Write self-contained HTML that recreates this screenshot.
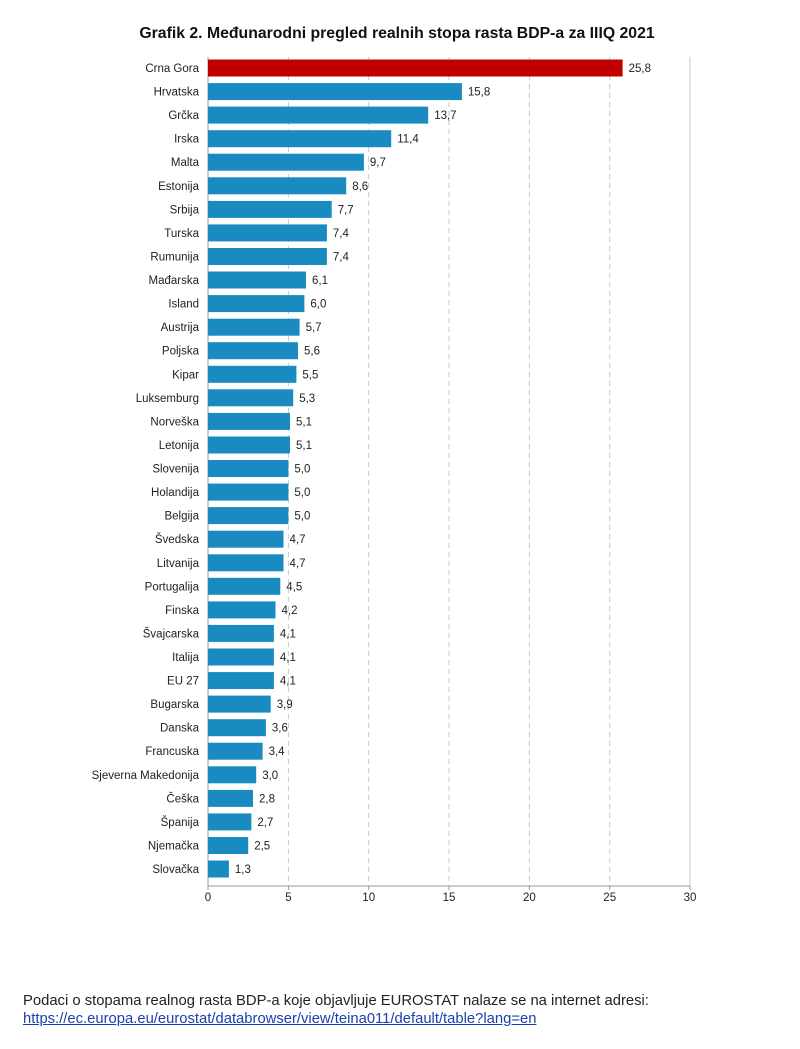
<!DOCTYPE html>
<html><head><meta charset="utf-8"><style>
body{margin:0;background:#fff;width:800px;height:1049px;overflow:hidden;font-family:"Liberation Sans",Arial,sans-serif}
svg text{font-family:"Liberation Sans",Arial,sans-serif}
.n{font-size:11.5px;fill:#222;text-anchor:end}
.v{font-size:11.5px;fill:#222}
.t{font-size:11.5px;fill:#222;text-anchor:middle}
.foot{position:absolute;left:23px;top:992px;font-size:14.8px;color:#222;line-height:18px}
.foot a{color:#1a3fb0;text-decoration:underline}
</style></head><body>
<svg width="800" height="1049" style="position:absolute;left:0;top:0">
<text x="397" y="38" text-anchor="middle" font-size="15.8" font-weight="bold" fill="#111">Grafik 2. Međunarodni pregled realnih stopa rasta BDP-a za IIIQ 2021</text>
<g stroke="#c8c8c8" stroke-dasharray="5,4" stroke-width="1">
<line x1="288.4" y1="57" x2="288.4" y2="886"/><line x1="368.7" y1="57" x2="368.7" y2="886"/><line x1="449" y1="57" x2="449" y2="886"/><line x1="529.4" y1="57" x2="529.4" y2="886"/><line x1="609.7" y1="57" x2="609.7" y2="886"/>
</g>
<line x1="690" y1="57" x2="690" y2="886" stroke="#c8c8c8"/>
<line x1="208" y1="57" x2="208" y2="886" stroke="#999"/>
<line x1="208" y1="886" x2="690" y2="886" stroke="#999"/>
<g stroke="#999"><line x1="288.4" y1="886" x2="288.4" y2="890"/><line x1="368.7" y1="886" x2="368.7" y2="890"/><line x1="449" y1="886" x2="449" y2="890"/><line x1="529.4" y1="886" x2="529.4" y2="890"/><line x1="609.7" y1="886" x2="609.7" y2="890"/><line x1="690" y1="886" x2="690" y2="890"/><line x1="208" y1="886" x2="208" y2="890"/></g>
<g>
<text class="t" x="208" y="901">0</text><text class="t" x="288.4" y="901">5</text><text class="t" x="368.7" y="901">10</text><text class="t" x="449" y="901">15</text><text class="t" x="529.4" y="901">20</text><text class="t" x="609.7" y="901">25</text><text class="t" x="690" y="901">30</text>
</g>
<rect x="208" y="59.5" width="414.6" height="17" fill="#c00000"/>
<g fill="#1a8bc0">
<rect x="208" y="83.1" width="253.9" height="17"/><rect x="208" y="106.6" width="220.2" height="17"/><rect x="208" y="130.2" width="183.2" height="17"/><rect x="208" y="153.7" width="155.9" height="17"/><rect x="208" y="177.3" width="138.2" height="17"/><rect x="208" y="200.9" width="123.7" height="17"/><rect x="208" y="224.4" width="118.9" height="17"/><rect x="208" y="248" width="118.9" height="17"/><rect x="208" y="271.5" width="98" height="17"/><rect x="208" y="295.1" width="96.4" height="17"/><rect x="208" y="318.7" width="91.6" height="17"/><rect x="208" y="342.2" width="90" height="17"/><rect x="208" y="365.8" width="88.4" height="17"/><rect x="208" y="389.3" width="85.2" height="17"/><rect x="208" y="412.9" width="82" height="17"/><rect x="208" y="436.5" width="82" height="17"/><rect x="208" y="460" width="80.4" height="17"/><rect x="208" y="483.6" width="80.4" height="17"/><rect x="208" y="507.1" width="80.4" height="17"/><rect x="208" y="530.7" width="75.5" height="17"/><rect x="208" y="554.3" width="75.5" height="17"/><rect x="208" y="577.8" width="72.3" height="17"/><rect x="208" y="601.4" width="67.5" height="17"/><rect x="208" y="624.9" width="65.9" height="17"/><rect x="208" y="648.5" width="65.9" height="17"/><rect x="208" y="672.1" width="65.9" height="17"/><rect x="208" y="695.6" width="62.7" height="17"/><rect x="208" y="719.2" width="57.9" height="17"/><rect x="208" y="742.7" width="54.6" height="17"/><rect x="208" y="766.3" width="48.2" height="17"/><rect x="208" y="789.9" width="45" height="17"/><rect x="208" y="813.4" width="43.4" height="17"/><rect x="208" y="837" width="40.2" height="17"/><rect x="208" y="860.5" width="20.9" height="17"/>
</g>
<g>
<text class="n" x="199" y="72">Crna Gora</text><text class="v" x="628.6" y="72">25,8</text>
<text class="n" x="199" y="95.6">Hrvatska</text><text class="v" x="467.9" y="95.6">15,8</text>
<text class="n" x="199" y="119.1">Grčka</text><text class="v" x="434.2" y="119.1">13,7</text>
<text class="n" x="199" y="142.7">Irska</text><text class="v" x="397.2" y="142.7">11,4</text>
<text class="n" x="199" y="166.2">Malta</text><text class="v" x="369.9" y="166.2">9,7</text>
<text class="n" x="199" y="189.8">Estonija</text><text class="v" x="352.2" y="189.8">8,6</text>
<text class="n" x="199" y="213.4">Srbija</text><text class="v" x="337.7" y="213.4">7,7</text>
<text class="n" x="199" y="236.9">Turska</text><text class="v" x="332.9" y="236.9">7,4</text>
<text class="n" x="199" y="260.5">Rumunija</text><text class="v" x="332.9" y="260.5">7,4</text>
<text class="n" x="199" y="284">Mađarska</text><text class="v" x="312" y="284">6,1</text>
<text class="n" x="199" y="307.6">Island</text><text class="v" x="310.4" y="307.6">6,0</text>
<text class="n" x="199" y="331.2">Austrija</text><text class="v" x="305.6" y="331.2">5,7</text>
<text class="n" x="199" y="354.7">Poljska</text><text class="v" x="304" y="354.7">5,6</text>
<text class="n" x="199" y="378.3">Kipar</text><text class="v" x="302.4" y="378.3">5,5</text>
<text class="n" x="199" y="401.8">Luksemburg</text><text class="v" x="299.2" y="401.8">5,3</text>
<text class="n" x="199" y="425.4">Norveška</text><text class="v" x="296" y="425.4">5,1</text>
<text class="n" x="199" y="449">Letonija</text><text class="v" x="296" y="449">5,1</text>
<text class="n" x="199" y="472.5">Slovenija</text><text class="v" x="294.4" y="472.5">5,0</text>
<text class="n" x="199" y="496.1">Holandija</text><text class="v" x="294.4" y="496.1">5,0</text>
<text class="n" x="199" y="519.6">Belgija</text><text class="v" x="294.4" y="519.6">5,0</text>
<text class="n" x="199" y="543.2">Švedska</text><text class="v" x="289.5" y="543.2">4,7</text>
<text class="n" x="199" y="566.8">Litvanija</text><text class="v" x="289.5" y="566.8">4,7</text>
<text class="n" x="199" y="590.3">Portugalija</text><text class="v" x="286.3" y="590.3">4,5</text>
<text class="n" x="199" y="613.9">Finska</text><text class="v" x="281.5" y="613.9">4,2</text>
<text class="n" x="199" y="637.4">Švajcarska</text><text class="v" x="279.9" y="637.4">4,1</text>
<text class="n" x="199" y="661">Italija</text><text class="v" x="279.9" y="661">4,1</text>
<text class="n" x="199" y="684.6">EU 27</text><text class="v" x="279.9" y="684.6">4,1</text>
<text class="n" x="199" y="708.1">Bugarska</text><text class="v" x="276.7" y="708.1">3,9</text>
<text class="n" x="199" y="731.7">Danska</text><text class="v" x="271.9" y="731.7">3,6</text>
<text class="n" x="199" y="755.2">Francuska</text><text class="v" x="268.6" y="755.2">3,4</text>
<text class="n" x="199" y="778.8">Sjeverna Makedonija</text><text class="v" x="262.2" y="778.8">3,0</text>
<text class="n" x="199" y="802.4">Češka</text><text class="v" x="259" y="802.4">2,8</text>
<text class="n" x="199" y="825.9">Španija</text><text class="v" x="257.4" y="825.9">2,7</text>
<text class="n" x="199" y="849.5">Njemačka</text><text class="v" x="254.2" y="849.5">2,5</text>
<text class="n" x="199" y="873">Slovačka</text><text class="v" x="234.9" y="873">1,3</text>
</g>
</svg>
<div class="foot">Podaci o stopama realnog rasta BDP-a koje objavljuje EUROSTAT nalaze se na internet adresi:<br><a>https://ec.europa.eu/eurostat/databrowser/view/teina011/default/table?lang=en</a></div>
</body></html>
